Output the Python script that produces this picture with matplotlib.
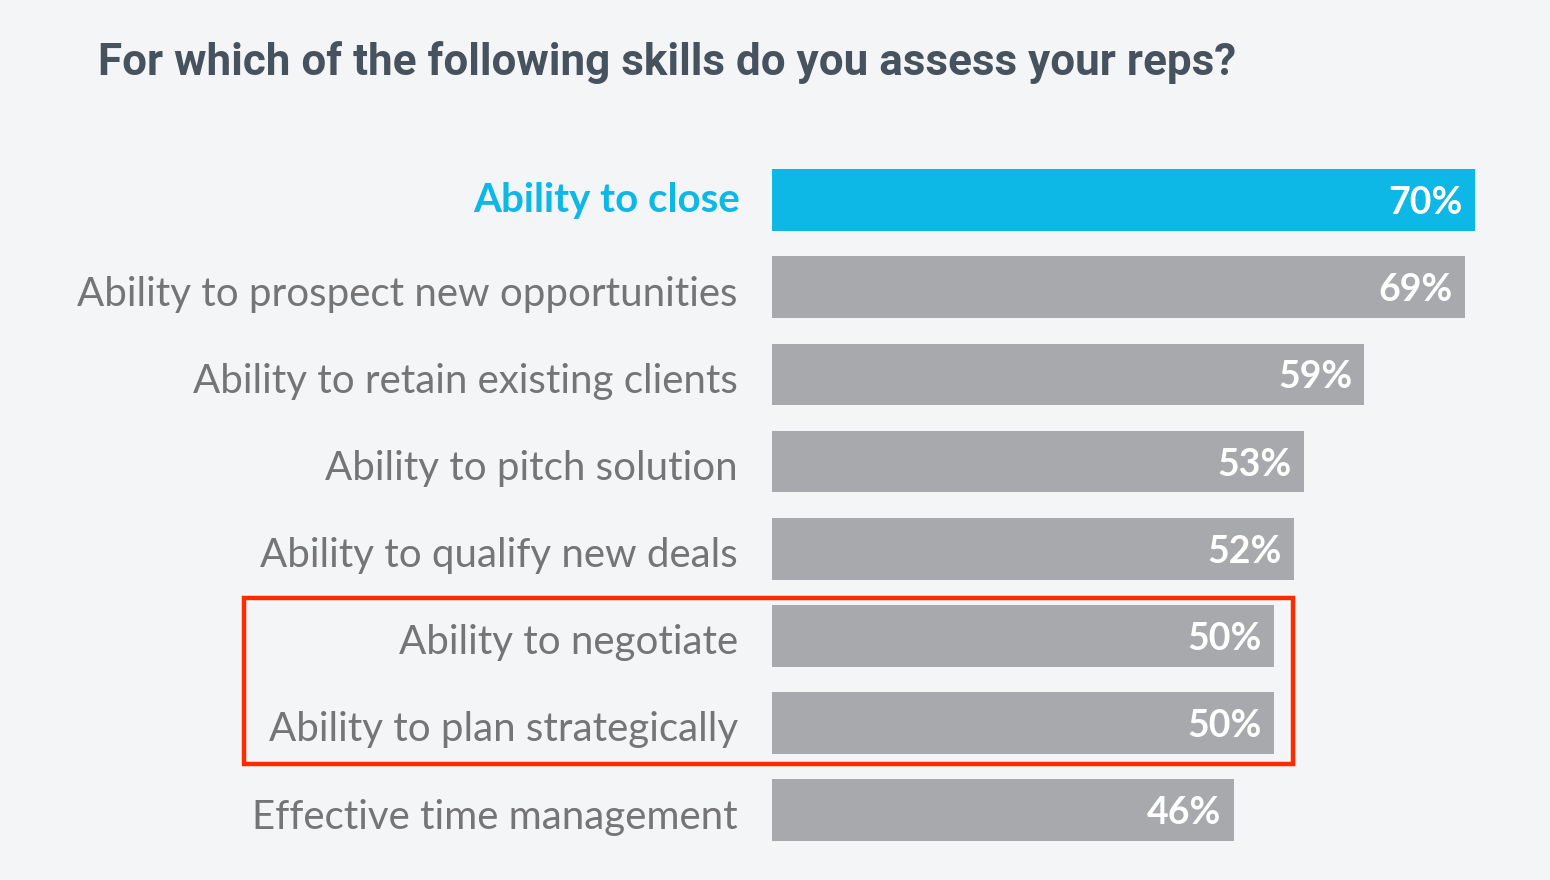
import matplotlib
matplotlib.use("Agg")

import matplotlib.pyplot as plt
from matplotlib.patches import Rectangle

# data
skills = [
    "Ability to close",
    "Ability to prospect new opportunities",
    "Ability to retain existing clients",
    "Ability to pitch solution",
    "Ability to qualify new deals",
    "Ability to negotiate",
    "Ability to plan strategically",
    "Effective time management",
]
shares = [70, 69, 59, 53, 52, 50, 50, 46]
highlight_idx = 0
boxed_rows = [5, 6]

title = "For which of the following skills do you assess your reps?"

bg = "#f4f5f7"
blue = "#0db7e6"
grey = "#a8a9ad"
label_grey = "#757575"

fig = plt.figure(figsize=(15.5, 8.8), dpi=100, facecolor=bg)
ax = fig.add_axes([0.498, 0.030, 0.4987, 0.792])
ax.set_facecolor(bg)

ypos = list(range(len(skills)))
colors = [blue if i == highlight_idx else grey for i in ypos]
ax.barh(ypos, shares, height=0.71, color=colors)

ax.set_xlim(0, 77)
ax.set_ylim(len(skills) - 0.5, -0.5)
ax.set_xticks([])
ax.set_yticks([])
for s in ax.spines.values():
    s.set_visible(False)

for i, (name, val) in enumerate(zip(skills, shares)):
    ax.text(val - 1.2, i, f"{val}%", ha="right", va="center_baseline",
            color="white", fontsize=27, fontweight="bold", family="Lato")
    if i == highlight_idx:
        ax.text(-3.2, i - 0.04, name, ha="right", va="center_baseline",
                color=blue, fontsize=29, fontweight="bold", family="Lato")
    else:
        ax.text(-3.4, i + 0.04, name, ha="right", va="center_baseline",
                color=label_grey, fontsize=29, family="Lato")

# red frame round the two 50% rows
top = boxed_rows[0] - 0.43
bottom = boxed_rows[-1] + 0.47
frame = Rectangle((-52.6, top), 52.6 + 51.9, bottom - top, fill=False,
                  edgecolor="#ff2a00", linewidth=3.2, clip_on=False)
ax.add_patch(frame)

fig.text(98 / 1550, 1 - 63 / 880, title, ha="left", va="center",
         color="#46535e", fontsize=31.7, fontweight="bold", family="Roboto")

fig.savefig("out.png", dpi=100, facecolor=bg)
